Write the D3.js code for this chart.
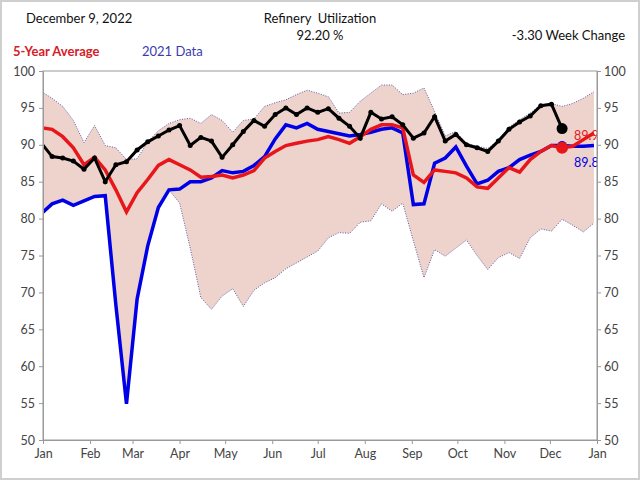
<!DOCTYPE html>
<html>
<head>
<meta charset="utf-8">
<script src="https://cdn.jsdelivr.net/npm/d3@7"></script>
<style>
  body { margin: 0; background: #fff; }
  text { font-family: Lato, "Open Sans", sans-serif; }
</style>
</head>
<body>
<div id="chart"></div>
<script>
// Refinery utilization - weekly values, first week ends Dec 31 2021
const rangeMax = [97.2, 96.3, 95.2, 93.3, 90.3, 92.6, 89.9, 89.6, 88.0, 88.1, 90.4, 91.9, 92.9, 93.4, 93.6, 92.9, 94.1, 93.3, 91.7, 93.3,
  93.5, 95.2, 95.7, 96.1, 96.8, 97.4, 97.0, 96.5, 94.3, 94.4, 95.9, 97.0, 98.1, 98.1, 96.8, 97.0, 97.7, 94.5, 91.2, 91.8,
  90.2, 89.8, 89.5, 90.6, 92.4, 93.4, 94.3, 95.4, 95.6, 95.2, 95.6, 96.3, 97.2];
const rangeMin = [80.7, 82.0, 82.5, 81.8, 82.4, 83.0, 83.1, 68.3, 54.9, 69.1, 76.3, 81.5, 83.9, 82.1, 76.0, 69.3, 67.7, 69.5, 70.5, 68.1,
  70.3, 71.3, 72.0, 73.2, 74.0, 74.8, 75.6, 77.4, 78.1, 78.0, 79.5, 79.7, 82.0, 81.0, 82.1, 77.0, 72.0, 75.8, 74.9, 76.0,
  77.1, 75.0, 73.1, 74.7, 75.4, 74.6, 77.4, 78.6, 78.3, 79.9, 79.1, 78.2, 79.4];
const avg5 = [92.3, 92.1, 91.1, 89.6, 87.3, 88.3, 86.6, 83.9, 80.9, 83.5, 85.3, 87.2, 88.0, 87.3, 86.6, 85.6, 85.7, 85.9, 85.5, 85.9,
  86.5, 88.2, 89.1, 89.9, 90.2, 90.5, 90.7, 91.1, 90.7, 90.2, 91.1, 92.1, 92.7, 92.7, 92.3, 85.9, 84.9, 86.6, 86.4, 86.2,
  85.5, 84.3, 84.1, 85.5, 86.9, 86.3, 88.0, 89.1, 89.9, 89.6, 89.8, 90.7, 91.6];
const data2021 = [80.7, 82.0, 82.5, 81.8, 82.4, 83.0, 83.1, 68.3, 54.9, 69.1, 76.3, 81.5, 83.9, 84.0, 85.0, 85.0, 85.5, 86.5, 86.2, 86.4,
  87.2, 88.4, 90.8, 92.7, 92.3, 92.9, 92.1, 91.8, 91.5, 91.2, 91.4, 91.7, 92.1, 92.3, 91.6, 81.9, 82.0, 87.5, 88.2, 89.7,
  87.1, 84.7, 85.2, 86.4, 86.9, 88.0, 88.6, 89.1, 89.9, 89.9, 89.8, 89.8, 89.9];
const data2022 = [90.2, 88.4, 88.2, 87.8, 86.7, 88.2, 85.0, 87.3, 87.7, 89.3, 90.4, 91.2, 92.0, 92.6, 89.9, 91.0, 90.5, 88.3, 90.0, 91.8,
  93.3, 92.5, 94.1, 95.0, 94.1, 95.0, 94.4, 94.9, 93.6, 92.5, 90.9, 94.4, 93.5, 93.8, 92.7, 90.9, 91.6, 93.8, 90.5, 91.4,
  90.0, 89.6, 89.1, 90.5, 92.1, 93.1, 93.9, 95.3, 95.5, 92.2];
const monthLabels = ["Jan", "Feb", "Mar", "Apr", "May", "Jun", "Jul", "Aug", "Sep", "Oct", "Nov", "Dec", "Jan"];
const yTicks = [50, 55, 60, 65, 70, 75, 80, 85, 90, 95, 100];
const endLabels = ["89.9", "89.8"];

const width = 640, height = 480;
const margin = { left: 43, right: 43, top: 71, bottom: 40 };
const firstWeek = new Date(2021, 11, 31);
const weeks = d3.range(rangeMax.length).map(i => d3.timeDay.offset(firstWeek, i * 7));

const x = d3.scaleTime()
  .domain([new Date(2022, 0, 1), new Date(2023, 0, 1)])
  .range([margin.left, width - margin.right]);
const y = d3.scaleLinear()
  .domain([50, 100])
  .range([height - margin.bottom, margin.top]);

const svg = d3.select("#chart").append("svg")
  .attr("width", width)
  .attr("height", height);

svg.append("rect")
  .attr("x", 1).attr("y", 1)
  .attr("width", width - 2).attr("height", height - 2)
  .attr("fill", "#fff")
  .attr("stroke", "#cfcfcf")
  .attr("stroke-width", 2);

svg.append("clipPath").attr("id", "plot")
  .append("rect")
  .attr("x", margin.left).attr("y", margin.top)
  .attr("width", width - margin.left - margin.right)
  .attr("height", height - margin.top - margin.bottom);

const plot = svg.append("g").attr("clip-path", "url(#plot)");

// 5 year range band
const area = d3.area()
  .x((d, i) => x(weeks[i]))
  .y0((d, i) => y(rangeMin[i]))
  .y1(d => y(d));
plot.append("path")
  .datum(rangeMax)
  .attr("d", area)
  .attr("fill", "#edd3cb");

[rangeMax, rangeMin].forEach(vals => {
  plot.append("path")
    .datum(vals)
    .attr("d", d3.line().x((d, i) => x(weeks[i])).y(d => y(d)))
    .attr("fill", "none")
    .attr("stroke", "#5a5aa8")
    .attr("stroke-width", 1)
    .attr("stroke-dasharray", "1,1.5");
});

const line = d3.line()
  .x((d, i) => x(weeks[i]))
  .y(d => y(d));

plot.append("path")
  .datum(data2021)
  .attr("d", line)
  .attr("fill", "none")
  .attr("stroke", "#0000e6")
  .attr("stroke-width", 3.5);

plot.append("path")
  .datum(avg5)
  .attr("d", line)
  .attr("fill", "none")
  .attr("stroke", "#e8161b")
  .attr("stroke-width", 3.5);

plot.append("path")
  .datum(data2022)
  .attr("d", line)
  .attr("fill", "none")
  .attr("stroke", "#000")
  .attr("stroke-width", 3);

plot.append("g")
  .selectAll("circle")
  .data(data2022)
  .enter().append("circle")
  .attr("cx", (d, i) => x(weeks[i]))
  .attr("cy", d => y(d))
  .attr("r", (d, i) => i === data2022.length - 1 ? 5.5 : 2.5)
  .attr("fill", "#000");

// markers at the current week
const last = data2022.length - 1;
plot.append("circle")
  .attr("cx", x(weeks[last])).attr("cy", y(data2021[last]))
  .attr("r", 4.5).attr("fill", "#0000e6");
plot.append("circle")
  .attr("cx", x(weeks[last])).attr("cy", y(avg5[last]))
  .attr("r", 6).attr("fill", "#e8161b");

plot.append("text")
  .attr("x", 574).attr("y", y(avg5[last]) - 8)
  .attr("font-size", 12.5).attr("fill", "#e8161b")
  .text(endLabels[0]);
plot.append("text")
  .attr("x", 574).attr("y", y(data2021[last]) + 21)
  .attr("font-size", 12.5).attr("fill", "#0000e6")
  .text(endLabels[1]);

// frame and axes
const axisColor = "#9a9a9a";
svg.append("rect")
  .attr("x", margin.left).attr("y", margin.top)
  .attr("width", width - margin.left - margin.right)
  .attr("height", height - margin.top - margin.bottom)
  .attr("fill", "none")
  .attr("stroke", axisColor);

const yLeft = svg.append("g")
  .attr("transform", `translate(${margin.left},0)`)
  .call(d3.axisLeft(y).tickValues(yTicks).tickSize(4).tickPadding(4));
const yRight = svg.append("g")
  .attr("transform", `translate(${width - margin.right},0)`)
  .call(d3.axisRight(y).tickValues(yTicks).tickSize(4).tickPadding(3));
const monthTicks = d3.timeMonth.range(new Date(2022, 0, 1), new Date(2023, 0, 2));
const xAxis = svg.append("g")
  .attr("transform", `translate(0,${height - margin.bottom})`)
  .call(d3.axisBottom(x).tickValues(monthTicks).tickSize(4).tickPadding(5)
    .tickFormat((d, i) => monthLabels[i]));

[yLeft, yRight, xAxis].forEach(g => {
  g.select(".domain").attr("stroke", axisColor);
  g.selectAll(".tick line").attr("stroke", axisColor);
  g.selectAll(".tick text")
    .attr("fill", "#444")
    .attr("font-size", 12.5)
    .style("font-family", "Lato, sans-serif");
});

// header
svg.append("text").attr("x", 26).attr("y", 23)
  .attr("font-size", 13).attr("fill", "#111").text("December 9, 2022");
svg.append("text").attr("x", 320).attr("y", 23).attr("text-anchor", "middle")
  .attr("font-size", 13).attr("fill", "#111").style("white-space", "pre")
  .text("Refinery  Utilization");
svg.append("text").attr("x", 320).attr("y", 40).attr("text-anchor", "middle")
  .attr("font-size", 13).attr("fill", "#111").text("92.20 %");
svg.append("text").attr("x", 625).attr("y", 40).attr("text-anchor", "end")
  .attr("font-size", 13).attr("fill", "#111").text("-3.30 Week Change");
svg.append("text").attr("x", 13).attr("y", 56)
  .attr("font-size", 13).attr("font-weight", "bold").attr("fill", "#d42027")
  .text("5-Year Average");
svg.append("text").attr("x", 142).attr("y", 56)
  .attr("font-size", 13).attr("fill", "#3b3bb0")
  .text("2021 Data");
</script>
</body>
</html>
